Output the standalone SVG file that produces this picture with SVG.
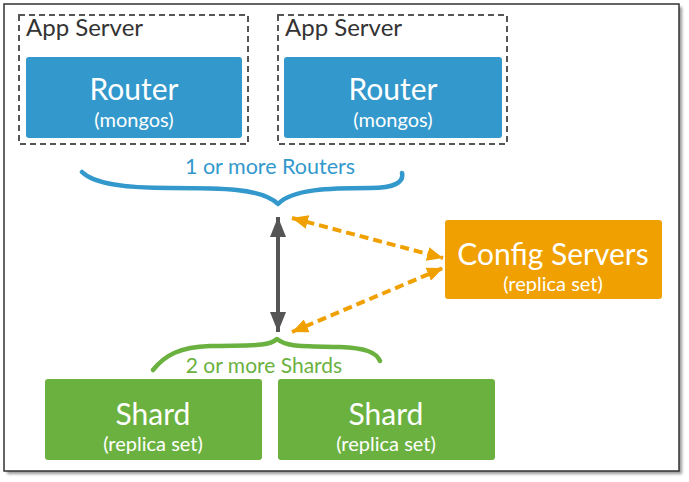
<svg xmlns="http://www.w3.org/2000/svg" width="689" height="482" viewBox="0 0 689 482">
<defs>
<style>
.t{font-family:Lato,"Open Sans","Liberation Sans",sans-serif;}
.app{fill:#333;font-size:24px;}
.big{fill:#fff;font-size:30px;text-anchor:middle;}
.small{fill:#fff;font-size:20px;text-anchor:middle;}
.dash{fill:none;stroke:#555;stroke-width:2;stroke-dasharray:6 4;}
.router{fill:#3399cc;}
.shard{fill:#6bb13f;}
.config{fill:#f0a000;}
.brace{fill:none;stroke-width:4.5;stroke-linecap:round;stroke-linejoin:round;}
</style>
<marker id="ga" viewBox="0 0 20 16" refX="20" refY="8" markerWidth="20" markerHeight="16" markerUnits="userSpaceOnUse" orient="auto-start-reverse">
<path d="M0,0 L20,8 L0,16 Z" fill="#555"/>
</marker>
<marker id="oa" viewBox="0 0 16 14" refX="16" refY="7" markerWidth="16" markerHeight="14" markerUnits="userSpaceOnUse" orient="auto-start-reverse">
<path d="M0,0 L16,7 L0,14 Z" fill="#f0a000"/>
</marker>
<filter id="sh" x="-5%" y="-5%" width="110%" height="110%"><feGaussianBlur stdDeviation="1.5"/></filter>
</defs>
<rect x="7" y="7" width="675" height="467" fill="#999" filter="url(#sh)"/>
<rect x="4" y="4" width="675" height="467" fill="#fff" stroke="#333" stroke-width="1.5"/>

<g id="appserver1">
<rect class="dash" x="19" y="15" width="229" height="129"/>
<text class="t app" x="26" y="36">App Server</text>
</g>
<g id="appserver2">
<rect class="dash" x="278" y="15" width="229" height="129"/>
<text class="t app" x="285" y="36">App Server</text>
</g>
<g id="router1">
<rect class="router" x="26" y="57" width="216" height="81" rx="3"/>
<text class="t big" x="134" y="100">Router</text>
<text class="t small" x="134" y="127">(mongos)</text>
</g>
<g id="router2">
<rect class="router" x="284" y="57" width="218" height="81" rx="3"/>
<text class="t big" x="393" y="100">Router</text>
<text class="t small" x="393" y="127">(mongos)</text>
</g>
<g id="routers-label">
<path class="brace" stroke="#3399cc" d="M82,172 C95,185 130,188 170,188 C220,188 262,188 278,204 C292,189 330,188 370,188 C395,188 404,182 402,173"/>
<text class="t" x="270" y="174" font-size="21.5" fill="#3399cc" text-anchor="middle">1 or more Routers</text>
</g>
<g id="config">
<rect class="config" x="445" y="220" width="217" height="79" rx="3"/>
<text class="t big" x="553" y="265">Config Servers</text>
<text class="t small" x="553" y="291">(replica set)</text>
</g>
<g id="shards-label">
<path class="brace" stroke="#6bb13f" d="M153,370 C165,355 180,347 210,346 C250,345 268,347 277,339 C287,347 300,346 340,347 C365,348 376,352 380,361"/>
<text class="t" x="264" y="373" font-size="21" fill="#6bb13f" text-anchor="middle">2 or more Shards</text>
</g>
<g id="shard1">
<rect class="shard" x="45" y="379" width="217" height="81" rx="3"/>
<text class="t big" x="153" y="425">Shard</text>
<text class="t small" x="153" y="451">(replica set)</text>
</g>
<g id="shard2">
<rect class="shard" x="278" y="379" width="217" height="81" rx="3"/>
<text class="t big" x="386" y="425">Shard</text>
<text class="t small" x="386" y="451">(replica set)</text>
</g>
<g id="connectors">
<line x1="278" y1="217" x2="278" y2="332" stroke="#555" stroke-width="4" marker-start="url(#ga)" marker-end="url(#ga)"/>
<line x1="292" y1="218" x2="443" y2="258" stroke="#f0a000" stroke-width="4" stroke-dasharray="9 5" marker-start="url(#oa)" marker-end="url(#oa)"/>
<line x1="292" y1="332" x2="443" y2="268" stroke="#f0a000" stroke-width="4" stroke-dasharray="9 5" marker-start="url(#oa)" marker-end="url(#oa)"/>
</g>
</svg>
